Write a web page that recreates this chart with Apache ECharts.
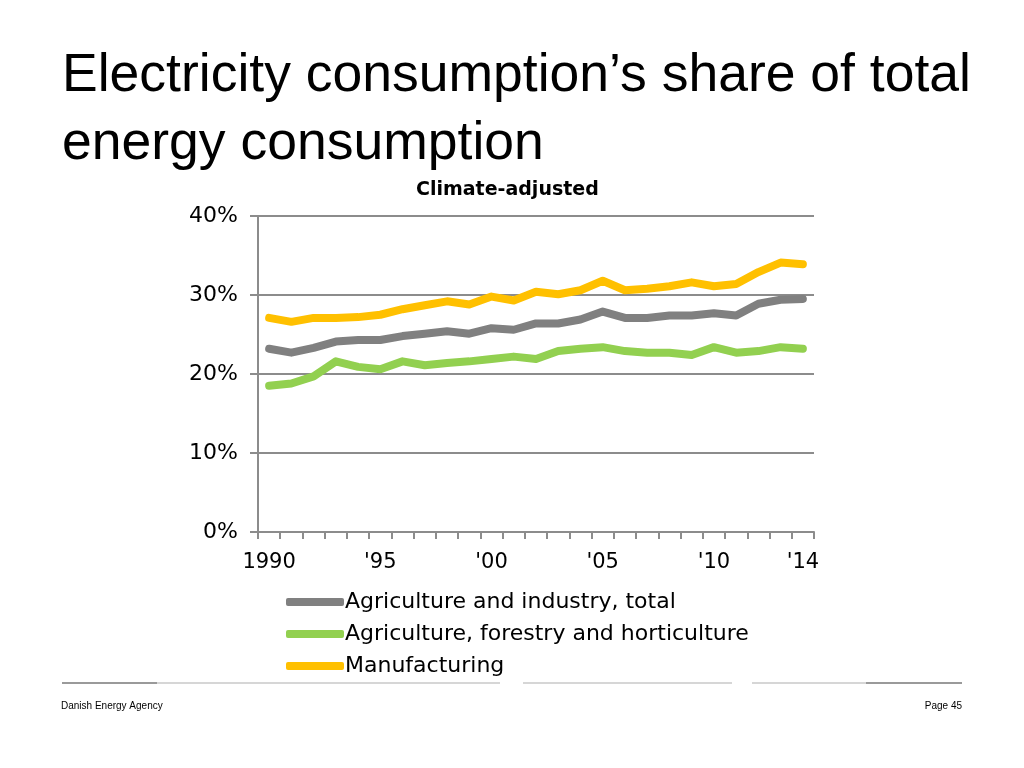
<!DOCTYPE html>
<html>
<head>
<meta charset="utf-8">
<script src="https://cdn.jsdelivr.net/npm/echarts@6/dist/echarts.min.js"></script>
<style>
  html, body { margin: 0; padding: 0; background: #fff; }
  #chart { width: 1024px; height: 768px; }
</style>
</head>
<body>
<div id="chart"></div>
<script>
// x categories, 1990..2014
const years = ['1990', "'91", "'92", "'93", "'94", "'95", "'96", "'97", "'98", "'99",
    "'00", "'01", "'02", "'03", "'04", "'05", "'06", "'07", "'08", "'09",
    "'10", "'11", "'12", "'13", "'14"];
// indexes of categories that get a label
const labelled = [0, 5, 10, 15, 20, 24];

const seriesNames = ['Agriculture and industry, total', 'Agriculture, forestry and horticulture', 'Manufacturing'];
const seriesColors = ['#808080', '#92d050', '#ffc000'];

// share of total energy consumption, %
const total = [23.2, 22.7, 23.3, 24.1, 24.3, 24.3, 24.8, 25.1, 25.4, 25.1, 25.8, 25.6, 26.4,
    26.4, 26.9, 27.9, 27.1, 27.1, 27.4, 27.4, 27.7, 27.4, 28.9, 29.4, 29.5];
const agriculture = [18.5, 18.8, 19.7, 21.6, 20.9, 20.6, 21.6, 21.1, 21.4, 21.6, 21.9, 22.2, 21.9,
    22.9, 23.2, 23.4, 22.9, 22.7, 22.7, 22.4, 23.4, 22.7, 22.9, 23.4, 23.2];
const manufacturing = [27.1, 26.6, 27.1, 27.1, 27.2, 27.5, 28.2, 28.7, 29.2, 28.8, 29.8, 29.3, 30.4,
    30.1, 30.6, 31.8, 30.6, 30.8, 31.1, 31.6, 31.1, 31.4, 32.9, 34.1, 33.9];

const chart = echarts.init(document.getElementById('chart'));

const sans = 'DejaVu Sans';
const axisColor = '#8c8c8c';

chart.setOption({
    animation: false,
    title: [{
        text: 'Electricity consumption\u2019s share of total\nenergy consumption',
        left: 57,
        top: 37,
        textStyle: {
            fontFamily: 'Liberation Sans',
            fontSize: 53.5,
            fontWeight: 'normal',
            lineHeight: 68,
            color: '#000'
        }
    }, {
        text: 'Climate-adjusted',
        left: 411,
        top: 176,
        textStyle: {fontFamily: sans, fontSize: 19, fontWeight: 'bold', color: '#000'}
    }],
    legend: {
        orient: 'vertical',
        left: 281,
        top: 585,
        itemWidth: 58,
        itemHeight: 8,
        itemGap: 8,
        icon: 'roundRect',
        data: seriesNames,
        textStyle: {fontFamily: sans, fontSize: 22, color: '#000', lineHeight: 24, padding: [0, 0, 0, -4]}
    },
    grid: {left: 258, right: 210, top: 216, bottom: 236},
    xAxis: {
        type: 'category',
        data: years,
        boundaryGap: true,
        axisLine: {lineStyle: {color: axisColor, width: 2}},
        axisTick: {show: true, alignWithLabel: false, interval: 0, length: 7, lineStyle: {color: axisColor, width: 2}},
        axisLabel: {
            interval: (i) => labelled.indexOf(i) >= 0,
            margin: 20,
            fontFamily: sans,
            fontSize: 21,
            color: '#000'
        }
    },
    yAxis: {
        type: 'value',
        min: 0,
        max: 40,
        interval: 10,
        axisLine: {show: true, lineStyle: {color: axisColor, width: 2}},
        axisTick: {show: true, length: 8, lineStyle: {color: axisColor, width: 2}},
        splitLine: {lineStyle: {color: axisColor, width: 2}},
        axisLabel: {formatter: '{value}%', margin: 20, fontFamily: sans, fontSize: 22, color: '#000'}
    },
    series: [total, agriculture, manufacturing].map((d, i) => ({
        type: 'line',
        name: seriesNames[i],
        data: d,
        symbol: 'none',
        color: seriesColors[i],
        lineStyle: {width: 8, color: seriesColors[i], cap: 'round', join: 'round'}
    })),
    graphic: [
        // footer rule, broken where the legend box sits over it
        {type: 'line', shape: {x1: 62, y1: 683, x2: 500, y2: 683}, style: {stroke: '#c8c8c8', lineWidth: 1.5}},
        {type: 'line', shape: {x1: 523, y1: 683, x2: 732, y2: 683}, style: {stroke: '#c8c8c8', lineWidth: 1.5}},
        {type: 'line', shape: {x1: 752, y1: 683, x2: 962, y2: 683}, style: {stroke: '#c8c8c8', lineWidth: 1.5}},
        {type: 'line', shape: {x1: 62, y1: 683, x2: 157, y2: 683}, style: {stroke: '#9a9a9a', lineWidth: 2}},
        {type: 'line', shape: {x1: 866, y1: 683, x2: 962, y2: 683}, style: {stroke: '#9a9a9a', lineWidth: 2}},
        {type: 'text', left: 61, top: 701, style: {text: 'Danish Energy Agency', font: '10px "Liberation Sans"', fill: '#000'}},
        {type: 'text', right: 62, top: 701, style: {text: 'Page 45', font: '10px "Liberation Sans"', fill: '#000'}}
    ]
});
</script>
</body>
</html>
